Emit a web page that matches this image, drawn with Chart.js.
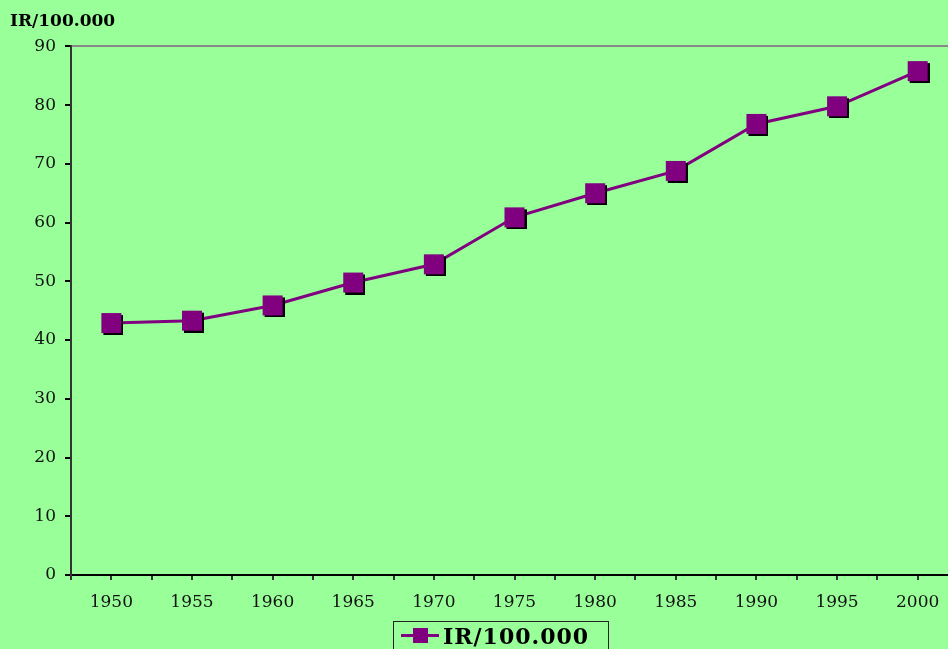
<!DOCTYPE html>
<html>
<head>
<meta charset="utf-8">
<script src="https://cdn.jsdelivr.net/npm/chart.js@4"></script>
<style>
  html, body { margin: 0; padding: 0; background: #99ff99; overflow: hidden; width: 948px; height: 649px; }
  #c { position: absolute; left: 0; top: 0; }
  #legend {
    position: absolute; left: 393px; top: 621px; width: 216px; height: 40px;
    border: 1px solid #222; box-sizing: border-box;
    font: bold 22px "DejaVu Serif", serif; letter-spacing: 1px; color: #000;
  }
  #legend .line { position: absolute; left: 7px; top: 12px; width: 38px; height: 3px; background: #800080; }
  #legend .sq { position: absolute; left: 19px; top: 6px; width: 15px; height: 15px; background: #800080; }
  #legend .txt { position: absolute; left: 49px; top: 1px; }
</style>
</head>
<body>
<canvas id="c" width="970" height="649"></canvas>
<div id="legend"><span class="line"></span><span class="sq"></span><span class="txt">IR/100.000</span></div>
<script>
const years = [1950, 1955, 1960, 1965, 1970, 1975, 1980, 1985, 1990, 1995, 2000];
const rates = [42.9, 43.3, 45.9, 49.8, 52.9, 60.9, 65, 68.8, 76.8, 79.8, 85.8];
const yTicks = [0, 10, 20, 30, 40, 50, 60, 70, 80, 90];

// square marker with black drop shadow
function makeMarker() {
  const c = document.createElement("canvas");
  c.width = 24; c.height = 24;
  const g = c.getContext("2d");
  g.fillStyle = "#000";
  g.fillRect(4, 4, 20, 20);
  g.fillStyle = "#800080";
  g.fillRect(2, 2, 20, 20);
  return c;
}

const font = { family: "DejaVu Serif", size: 17 };

new Chart(document.getElementById("c"), {
  type: "line",
  data: {
    datasets: [{
      label: "IR/100.000",
      data: years.map((y, i) => ({ x: y, y: rates[i] })),
      borderColor: "#800080",
      borderWidth: 3,
      pointStyle: makeMarker(),
      tension: 0
    }]
  },
  options: {
    responsive: false,
    animation: false,
    layout: { padding: { left: 10, right: 2, top: 0, bottom: 0 } },
    plugins: {
      legend: { display: false },
      tooltip: { enabled: false },
      title: {
        display: true,
        text: "IR/100.000",
        align: "start",
        color: "#000",
        font: { family: "DejaVu Serif", size: 17, weight: "bold" },
        padding: { top: 11, bottom: 15 }
      }
    },
    scales: {
      x: {
        type: "linear",
        min: 1947.5,
        max: 2002.5,
        border: { color: "#000", width: 2 },
        grid: { drawOnChartArea: false, color: "#333", tickLength: 5, lineWidth: 2 },
        ticks: {
          stepSize: 2.5,
          autoSkip: false,
          maxRotation: 0,
          padding: 12,
          color: "#111",
          font: font,
          callback: v => (years.includes(v) ? String(v) : "")
        },
        afterFit: s => { s.height = 74; }
      },
      y: {
        min: 0,
        max: 90,
        border: { color: "#333", width: 2 },
        grid: {
          color: ctx => (ctx.tick && ctx.tick.value === yTicks[yTicks.length - 1] ? "#888" : "rgba(0,0,0,0)"),
          tickColor: "#000",
          tickLength: 6,
          lineWidth: 2
        },
        afterBuildTicks: s => { s.ticks = yTicks.map(v => ({ value: v })); },
        ticks: { padding: 9, color: "#111", font: font },
        afterFit: s => { s.width = 61; }
      }
    }
  }
});
</script>
</body>
</html>
